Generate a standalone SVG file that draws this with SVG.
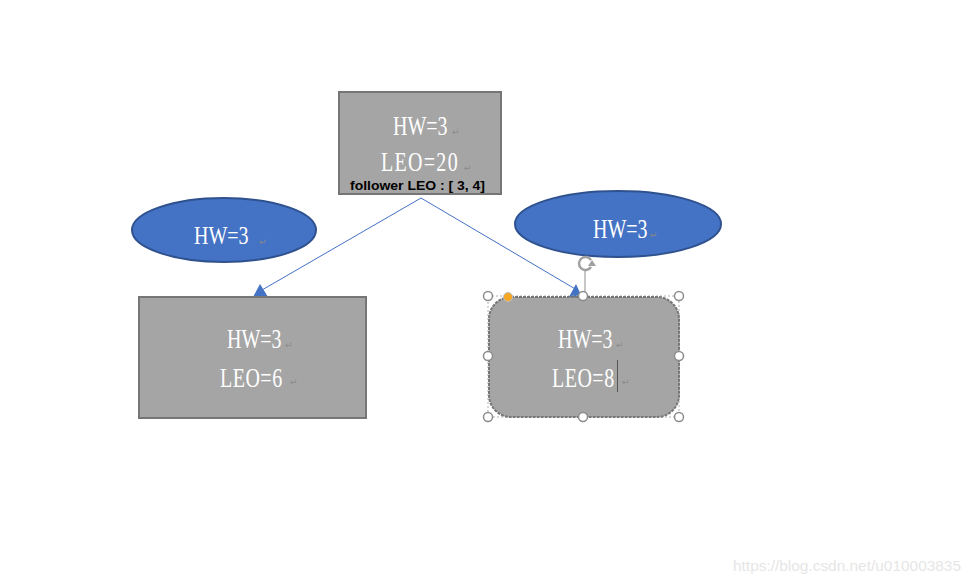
<svg xmlns="http://www.w3.org/2000/svg" width="976" height="584" viewBox="0 0 976 584">
<style>
.box{fill:#a5a5a5;stroke:#767676;stroke-width:2}
.ell{fill:#4472c4;stroke:#2f528f;stroke-width:2}
.t{font-family:"Liberation Serif",serif;font-size:20px;fill:#ffffff}
.pm{font-family:"DejaVu Sans",sans-serif;font-size:9px;fill:#8a8a8a}
.conn{stroke:#4472c4;stroke-width:1;fill:none}
.arr{fill:#4472c4}
.h{fill:#ffffff;stroke:#8c8c8c;stroke-width:1.5}
</style>
<rect width="976" height="584" fill="#ffffff"/>
<g id="connectors">
<line class="conn" x1="421" y1="198" x2="262" y2="290"/>
<line class="conn" x1="421" y1="198" x2="577" y2="290"/>
<polygon class="arr" points="253,297 268,297 260,284"/>
<polygon class="arr" points="569,297 582,297 576,284"/>
</g>
<g id="leader">
<rect class="box" x="339" y="92" width="162" height="102"/>
<text class="t" transform="translate(393,135) scale(1,1.35)" font-size="19">HW=3</text>
<text class="pm" x="452" y="135">↵</text>
<text class="t" transform="translate(381,171) scale(1,1.35)" letter-spacing="1.3">LEO=20</text>
<text class="pm" x="464" y="171">↵</text>
<text x="350" y="190" font-family="Liberation Sans, sans-serif" font-size="12" font-weight="bold" fill="#000000" textLength="135" lengthAdjust="spacingAndGlyphs">follower LEO : [ 3, 4]</text>
</g>
<g id="hw-left">
<ellipse class="ell" cx="224" cy="230" rx="92" ry="32"/>
<text class="t" transform="translate(194,244) scale(1,1.3)" font-size="21">HW=3</text>
<text class="pm" x="259" y="245">↵</text>
</g>
<g id="hw-right">
<ellipse class="ell" cx="618" cy="224" rx="103" ry="33"/>
<text class="t" transform="translate(593,238) scale(1,1.35)" font-size="18.5">HW=3</text>
<text class="pm" x="650" y="238">↵</text>
</g>
<g id="follower-left">
<rect class="box" x="139" y="297" width="227" height="121"/>
<text class="t" transform="translate(227,348) scale(1,1.35)" font-size="19">HW=3</text>
<text class="pm" x="285" y="348">↵</text>
<text class="t" transform="translate(220,387) scale(1,1.35)" letter-spacing="0.5">LEO=6</text>
<text class="pm" x="290" y="385">↵</text>
</g>
<g id="follower-right">
<rect x="488" y="296" width="191" height="121" fill="none" stroke="#b0b0b0" stroke-width="1" stroke-dasharray="2,2"/>
<rect class="box" x="489" y="297" width="190" height="120" rx="22" ry="22" stroke-dasharray="3,1"/>
<text class="t" transform="translate(558,348) scale(1,1.35)" font-size="19">HW=3</text>
<text class="pm" x="616" y="348">↵</text>
<text class="t" transform="translate(552,387) scale(1,1.35)" letter-spacing="0.5">LEO=8</text>
<line x1="617.5" y1="360" x2="617.5" y2="392" stroke="#555555" stroke-width="1"/>
<text class="pm" x="622" y="385">↵</text>
</g>
<g id="selection-handles">
<line x1="585" y1="270" x2="585" y2="296" stroke="#8c8c8c" stroke-width="1"/>
<path d="M591,260 A6.5,6.5 0 1 0 591,267" fill="none" stroke="#a0a0a0" stroke-width="2.5"/>
<polygon points="588,266 596,266 592,260" fill="#a0a0a0"/>
<circle class="h" cx="488" cy="296" r="4.5"/>
<circle class="h" cx="583" cy="296" r="4.5"/>
<circle class="h" cx="679" cy="296" r="4.5"/>
<circle class="h" cx="488" cy="356" r="4.5"/>
<circle class="h" cx="679" cy="356" r="4.5"/>
<circle class="h" cx="488" cy="417" r="4.5"/>
<circle class="h" cx="583" cy="417" r="4.5"/>
<circle class="h" cx="679" cy="417" r="4.5"/>
<circle cx="508" cy="297" r="4.5" fill="#f5a623" stroke="#c0c0c0" stroke-width="1"/>
</g>
<text x="733" y="571" font-family="Liberation Sans, sans-serif" font-size="15" fill="#e6e6e6" textLength="228" lengthAdjust="spacingAndGlyphs">https://blog.csdn.net/u010003835</text>
</svg>
